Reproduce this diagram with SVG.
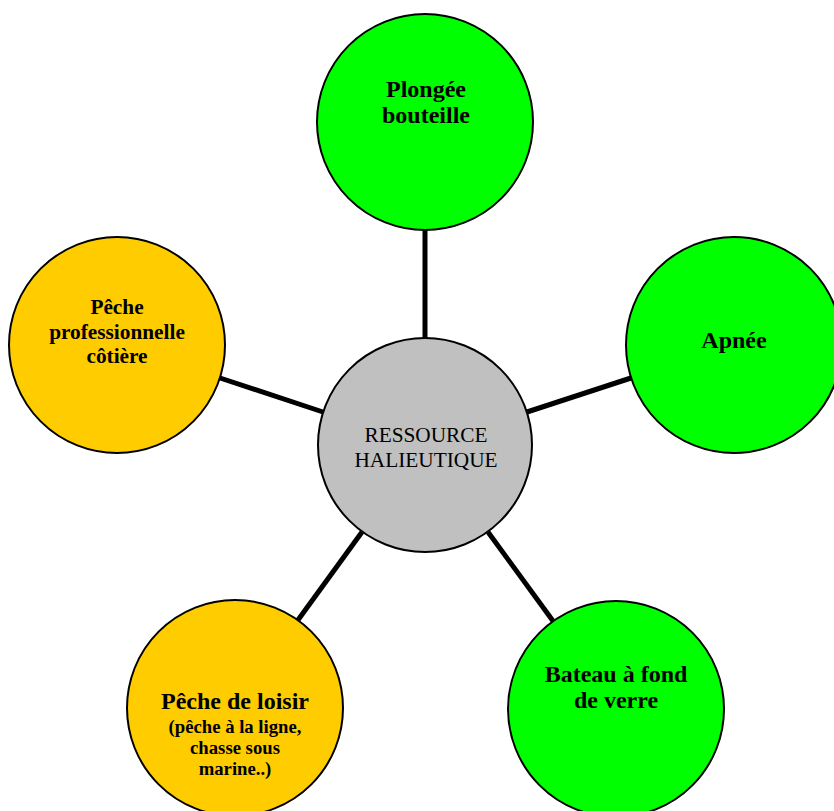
<svg xmlns="http://www.w3.org/2000/svg" width="834" height="811" viewBox="0 0 834 811">
<style>
.node{stroke:#000;stroke-width:2}
.g{fill:#00FF00}
.o{fill:#FFCC00}
.c{fill:#C0C0C0}
.lbl{font-family:"Liberation Serif","Times New Roman",serif;font-weight:bold;font-size:24px;fill:#000;text-anchor:middle}
.mid{font-size:21.3px}
.sub{font-size:18.7px}
.ctr{font-family:"Liberation Serif","Times New Roman",serif;font-size:21.3px;fill:#000;text-anchor:middle}
.conn line{stroke:#000;stroke-width:5}
</style>
<rect width="834" height="811" fill="#fff"/>
<g id="connectors" class="conn">
<line x1="425" y1="338" x2="425" y2="229"/>
<line x1="527" y1="412" x2="631" y2="378"/>
<line x1="323" y1="412" x2="220" y2="378"/>
<line x1="362" y1="532" x2="298" y2="620"/>
<line x1="488" y1="532" x2="553" y2="621"/>
</g>
<g id="center">
<circle class="node c" cx="425" cy="445" r="107"/>
<text class="ctr" x="426" y="442">RESSOURCE</text>
<text class="ctr" x="426" y="467">HALIEUTIQUE</text>
</g>
<g id="plongee">
<circle class="node g" cx="425" cy="122" r="108"/>
<text class="lbl" x="426" y="97">Plongée</text>
<text class="lbl" x="426" y="123">bouteille</text>
</g>
<g id="apnee">
<circle class="node g" cx="734" cy="345" r="108"/>
<text class="lbl" x="734" y="348">Apnée</text>
</g>
<g id="peche-pro">
<circle class="node o" cx="117" cy="345" r="108"/>
<text class="lbl mid" x="117" y="314">Pêche</text>
<text class="lbl mid" x="117" y="339">professionnelle</text>
<text class="lbl mid" x="117" y="363">côtière</text>
</g>
<g id="peche-loisir">
<circle class="node o" cx="235" cy="708" r="108"/>
<text class="lbl" x="235" y="709">Pêche de loisir</text>
<text class="lbl sub" x="235" y="733">(pêche à la ligne,</text>
<text class="lbl sub" x="235" y="754">chasse sous</text>
<text class="lbl sub" x="235" y="775">marine..)</text>
</g>
<g id="bateau">
<circle class="node g" cx="616" cy="709" r="108"/>
<text class="lbl" x="616" y="682">Bateau à fond</text>
<text class="lbl" x="616" y="708">de verre</text>
</g>
</svg>
